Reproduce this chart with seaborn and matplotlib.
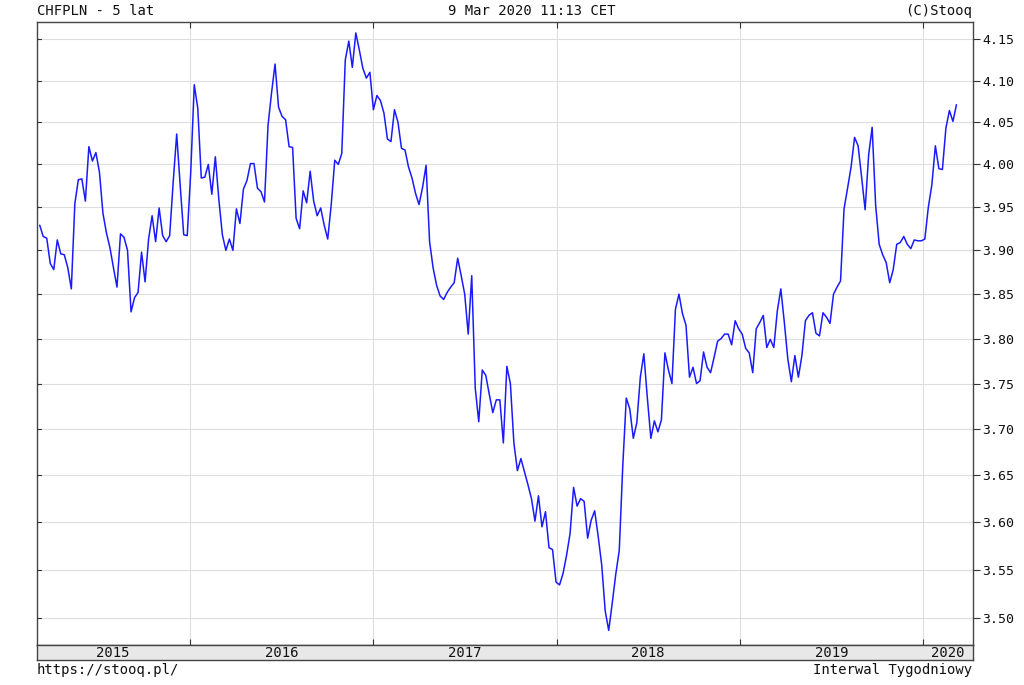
import numpy as np
import pandas as pd
import matplotlib
matplotlib.use("Agg")
import matplotlib.pyplot as plt
import matplotlib.ticker as mticker
import seaborn as sns

# ---------------- data (weekly CHFPLN closes) ----------------
values_2015 = [3.929, 3.916, 3.914, 3.885, 3.878, 3.912, 3.896, 3.895, 3.880, 3.856,
               3.954, 3.982, 3.983, 3.957, 4.021, 4.004, 4.014, 3.991, 3.943, 3.920,
               3.903, 3.880, 3.858, 3.919, 3.915, 3.900, 3.830, 3.846, 3.852, 3.898,
               3.864, 3.913, 3.940, 3.910, 3.949, 3.917, 3.910, 3.917, 3.979, 4.036,
               3.975, 3.918, 3.917]
values_2016 = [3.991, 4.095, 4.067, 3.984, 3.985, 4.000, 3.965, 4.009, 3.959, 3.918,
               3.900, 3.913, 3.900, 3.948, 3.931, 3.971, 3.981, 4.001, 4.001, 3.972,
               3.968, 3.956, 4.046, 4.085, 4.120, 4.068, 4.057, 4.053, 4.021, 4.020,
               3.937, 3.925, 3.969, 3.955, 3.992, 3.957, 3.940, 3.949, 3.929, 3.913,
               3.953, 4.005, 4.000, 4.013, 4.125, 4.148, 4.116, 4.158, 4.137, 4.115,
               4.103]
values_2017 = [4.110, 4.065, 4.082, 4.076, 4.061, 4.030, 4.027, 4.065, 4.050, 4.019,
               4.017, 3.997, 3.984, 3.966, 3.953, 3.973, 3.999, 3.910, 3.880, 3.860,
               3.848, 3.844, 3.852, 3.858, 3.863, 3.891, 3.871, 3.850, 3.805, 3.871,
               3.745, 3.708, 3.765, 3.759, 3.738, 3.718, 3.732, 3.732, 3.685, 3.769,
               3.750, 3.685, 3.655, 3.668, 3.654, 3.640, 3.625, 3.601, 3.628, 3.595,
               3.611, 3.573, 3.571]
values_2018 = [3.537, 3.534, 3.546, 3.565, 3.588, 3.637, 3.617, 3.625, 3.622, 3.583,
               3.602, 3.612, 3.585, 3.555, 3.507, 3.487, 3.515, 3.545, 3.570, 3.660,
               3.734, 3.722, 3.690, 3.707, 3.757, 3.783, 3.734, 3.690, 3.709, 3.697,
               3.710, 3.784, 3.765, 3.750, 3.833, 3.850, 3.828, 3.815, 3.757, 3.768,
               3.750, 3.753, 3.785, 3.768, 3.762, 3.779, 3.797, 3.800, 3.805, 3.805,
               3.793, 3.820]
values_2019 = [3.811, 3.805, 3.789, 3.784, 3.762, 3.811, 3.818, 3.826, 3.790, 3.799,
               3.790, 3.831, 3.856, 3.818, 3.777, 3.752, 3.781, 3.757, 3.781, 3.820,
               3.826, 3.829, 3.806, 3.803, 3.829, 3.824, 3.817, 3.850, 3.858, 3.865,
               3.948, 3.972, 3.997, 4.032, 4.022, 3.985, 3.947, 4.011, 4.044, 3.952,
               3.907, 3.895, 3.886, 3.863, 3.878, 3.907, 3.909, 3.916, 3.907, 3.902,
               3.912, 3.911]
values_2020 = [3.911, 3.913, 3.950, 3.976, 4.022, 3.995, 3.994, 4.043, 4.064, 4.051,
               4.071]

values = values_2015 + values_2016 + values_2017 + values_2018 + values_2019 + values_2020
dates = pd.date_range(end="2020-03-08", periods=len(values), freq="W-SUN")

y_ticks = [3.50, 3.55, 3.60, 3.65, 3.70, 3.75, 3.80, 3.85, 3.90, 3.95, 4.00, 4.05, 4.10, 4.15]
year_labels = ["2015", "2016", "2017", "2018", "2019", "2020"]

title_left = "CHFPLN - 5 lat"
title_center = "9 Mar 2020 11:13 CET"
title_right = "(C)Stooq"
footer_left = "https://stooq.pl/"
footer_right = "Interwal Tygodniowy"

df = pd.DataFrame({"date": dates, "close": values})

# ---------------- figure ----------------
sns.set_style("white")
plt.rcParams["font.family"] = ["DejaVu Sans Mono", "DejaVu Sans"]

W, H = 1024, 685
fig = plt.figure(figsize=(W / 100, H / 100), dpi=100)

left_px, right_px = 36.7, 972.5
top_px, bottom_px = 21.5, 645.0
band_bottom_px = 660.0

ax = fig.add_axes([left_px / W, 1 - bottom_px / H,
                   (right_px - left_px) / W, (bottom_px - top_px) / H])
axb = fig.add_axes([left_px / W, 1 - band_bottom_px / H,
                    (right_px - left_px) / W, (band_bottom_px - bottom_px) / H])

sns.lineplot(data=df, x="date", y="close", ax=ax, color="#1a1aff", linewidth=1.1)

x0 = pd.Timestamp("2015-03-02")
x1 = pd.Timestamp("2020-04-09")
ax.set_xlim(x0, x1)
ax.set_yscale("log")
ax.set_ylim(3.472, 4.172)

# y ticks on the right (labelled), small inward ticks on the left
ax.yaxis.set_major_locator(mticker.FixedLocator(y_ticks))
ax.yaxis.set_minor_locator(mticker.NullLocator())
ax.yaxis.set_major_formatter(mticker.FixedFormatter([f"{v:.2f}" for v in y_ticks]))
ax.tick_params(axis="y", which="major", direction="out", length=5, width=0.8,
               color="#333333", labelsize=9.5, labelcolor="#111111", pad=2,
               right=True, labelright=True, left=False, labelleft=False)
for v in y_ticks:
    ax.plot([x0, x0 + pd.Timedelta(days=8)], [v, v], color="#333333",
            linewidth=0.8, clip_on=False, zorder=3)
ax.set_ylabel("")
ax.set_xlabel("")

# year boundaries
year_starts = [pd.Timestamp(f"{y}-01-01") for y in range(2016, 2021)]
ax.set_xticks(year_starts)
ax.set_xticklabels([])
ax.tick_params(axis="x", which="major", direction="in", length=4, width=0.8,
               color="#333333", top=True, bottom=True)

# grid
for v in y_ticks:
    ax.axhline(v, color="#dedede", linewidth=0.8, zorder=0)
for d in year_starts:
    ax.axvline(d, color="#dedede", linewidth=0.8, zorder=0)

for s in ax.spines.values():
    s.set_color("#444444")
    s.set_linewidth(1.0)

# year band
axb.set_facecolor("#e8e8e8")
axb.set_xlim(x0, x1)
axb.set_ylim(0, 1)
axb.set_xticks([])
axb.set_yticks([])
for s in axb.spines.values():
    s.set_color("#444444")
    s.set_linewidth(1.0)
bounds = [x0] + year_starts + [x1]
for i, lab in enumerate(year_labels):
    mid = bounds[i] + (bounds[i + 1] - bounds[i]) / 2
    axb.text(mid, 0.45, lab, ha="center", va="center", fontsize=10,
             color="#111111")

# header and footer texts
fs = 10
fig.text(left_px / W, 1 - 11 / H, title_left, ha="left", va="center", fontsize=fs, color="#111111")
fig.text(532 / W, 1 - 11 / H, title_center, ha="center", va="center", fontsize=fs, color="#111111")
fig.text(right_px / W, 1 - 11 / H, title_right, ha="right", va="center", fontsize=fs, color="#111111")
fig.text(left_px / W, 1 - 670 / H, footer_left, ha="left", va="center", fontsize=fs, color="#111111")
fig.text(right_px / W, 1 - 670 / H, footer_right, ha="right", va="center", fontsize=fs, color="#111111")

fig.savefig("out.png", dpi=100, facecolor="white")
